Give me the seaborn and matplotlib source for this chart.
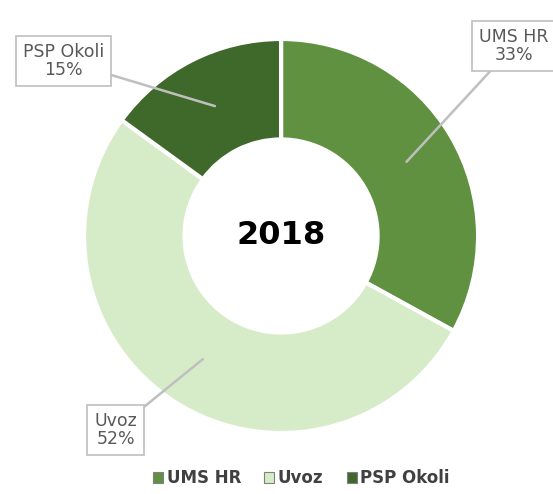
import matplotlib
matplotlib.use("Agg")
import numpy as np
import matplotlib.pyplot as plt
import seaborn as sns

# data
categories = ["UMS HR", "Uvoz", "PSP Okoli"]
shares = [33, 52, 15]
colors = ["#609141", "#d6ecc8", "#3f692a"]
center_label = "2018"

sns.set_theme(style="white")
plt.rcParams["font.family"] = ["DejaVu Sans"]

fig = plt.figure(figsize=(5.53, 4.94), dpi=100)
ax = fig.add_axes([0.152, 0.1235, 0.7125, 0.7976])

wedges, _ = ax.pie(
    shares,
    colors=colors,
    startangle=90,
    counterclock=False,
    radius=1.0,
    wedgeprops=dict(width=0.51, edgecolor="white", linewidth=3),
)
ax.set_xlim(-1, 1)
ax.set_ylim(-1, 1)
ax.set_aspect("equal")
ax.axis("off")

ax.text(0, 0, center_label, ha="center", va="center", fontsize=23,
        fontweight="bold", color="black")

# callout positions (layout only)
text_pos = {"UMS HR": (1.18, 0.965), "Uvoz": (-0.84, -0.985), "PSP Okoli": (-1.105, 0.89)}
for w, cat, val in zip(wedges, categories, shares):
    mid = np.deg2rad((w.theta1 + w.theta2) / 2)
    tip = (0.74 * np.cos(mid), 0.74 * np.sin(mid))
    ax.annotate(
        f"{cat}\n{val}%",
        xy=tip,
        xytext=text_pos[cat],
        ha="center", va="center",
        fontsize=12.5, color="#595959", linespacing=1.0,
        bbox=dict(boxstyle="square,pad=0.4", fc="white", ec="#bfbfbf", lw=1.2),
        arrowprops=dict(arrowstyle="-", color="#bfbfbf", lw=1.8,
                        shrinkA=0, shrinkB=0),
        annotation_clip=False,
    )

leg = fig.legend(
    wedges, categories,
    loc="center", bbox_to_anchor=(0.545, 0.032), ncol=3, frameon=False,
    handlelength=0.6, handleheight=0.6, handletextpad=0.2, columnspacing=1.4,
    prop=dict(size=12, weight="bold"),
)
for t in leg.get_texts():
    t.set_color("#404040")
for h in leg.legend_handles:
    h.set_edgecolor("#7f7f7f")
    h.set_linewidth(0.8)

fig.savefig("out.png", dpi=100)
